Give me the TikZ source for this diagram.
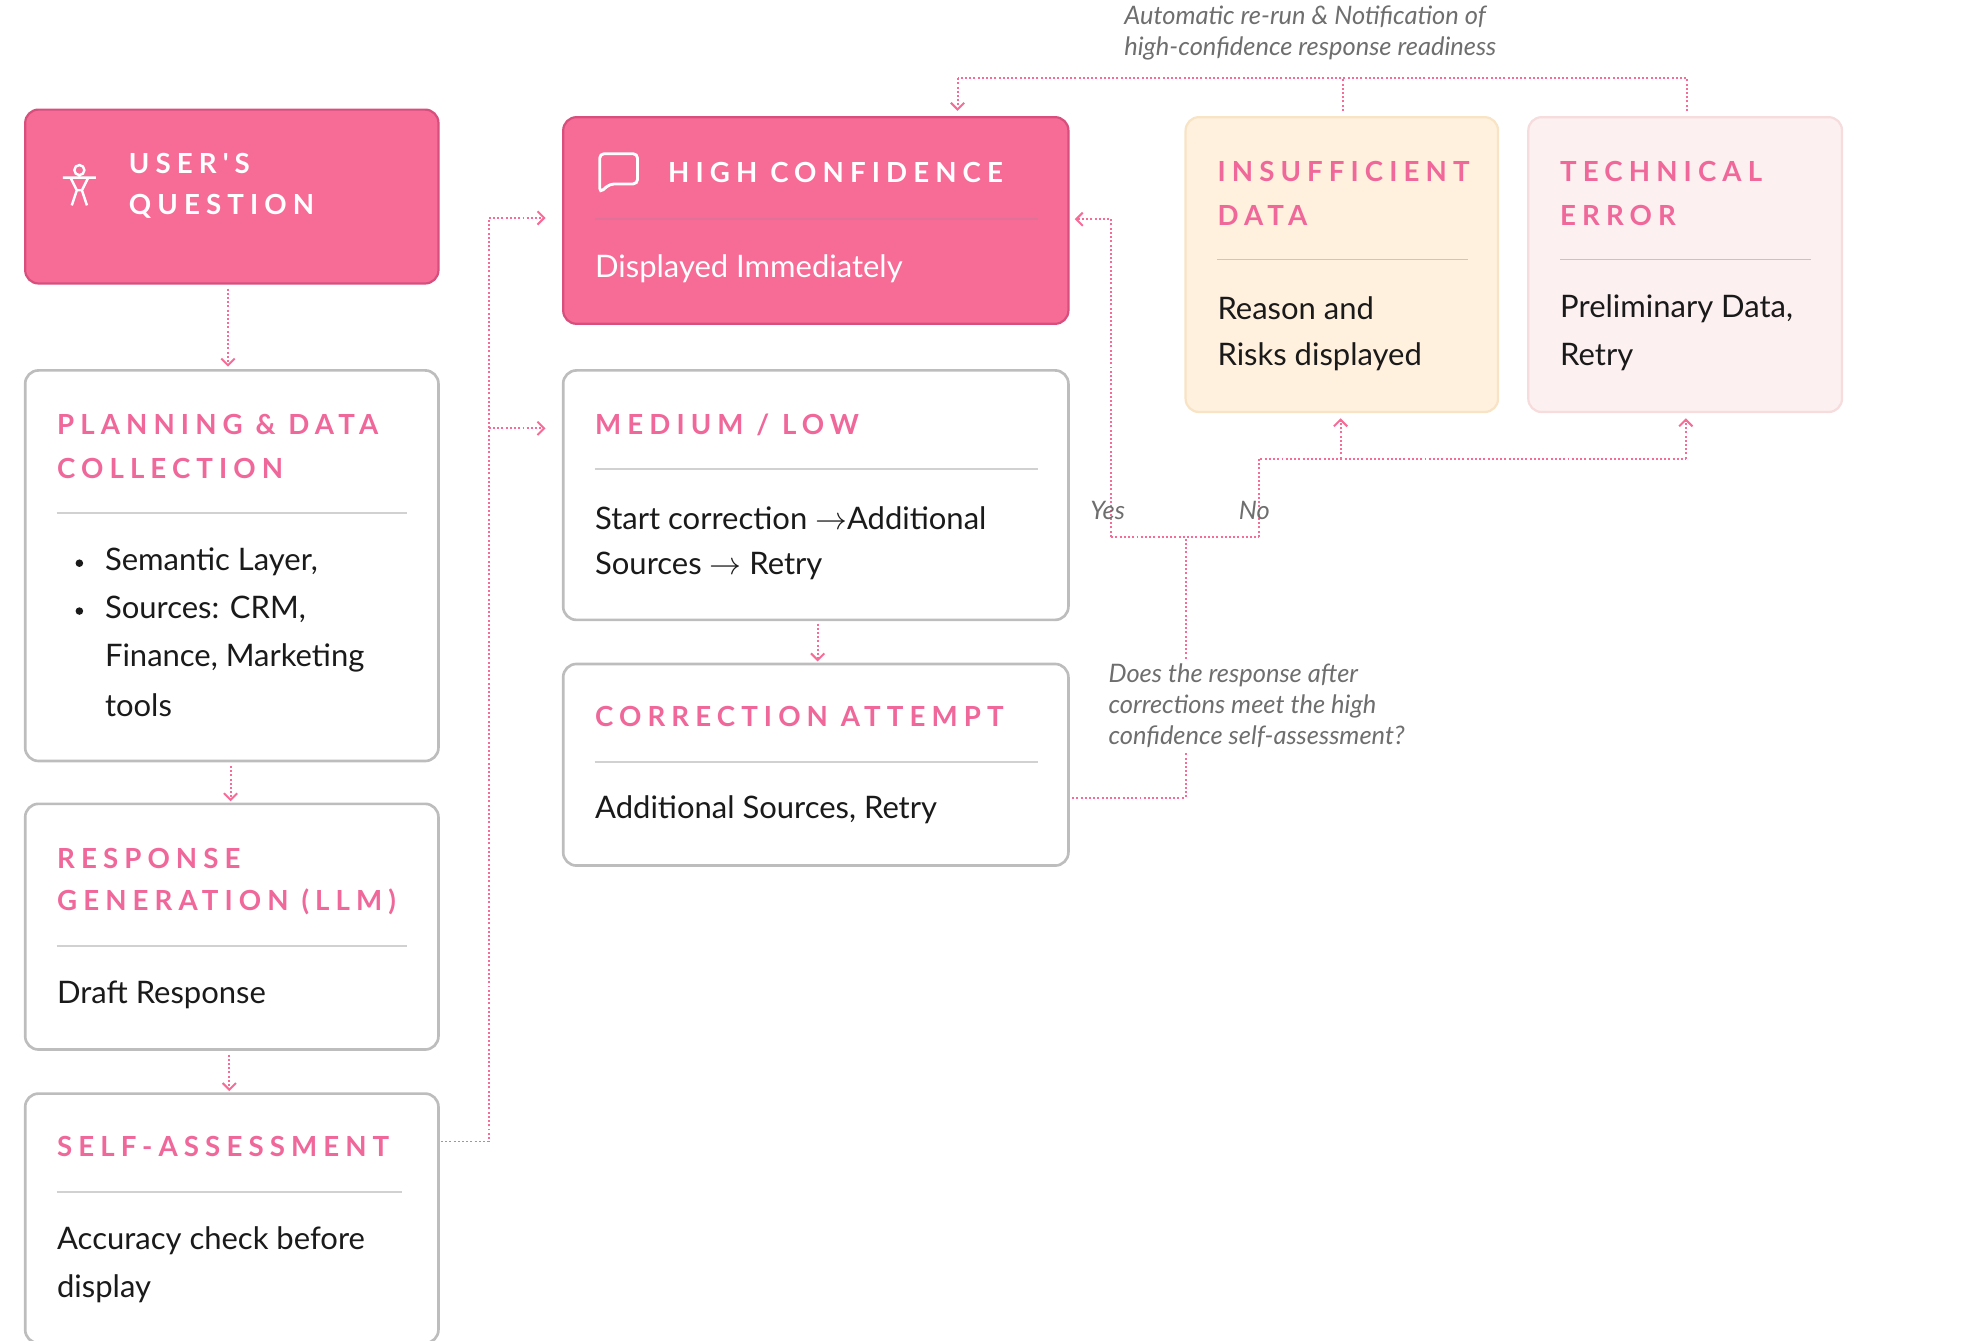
\documentclass[tikz,border=0pt]{standalone}
\usepackage{fontspec}
\setmainfont{Lato}
\newfontfamily\hdfont[LetterSpace=22]{Lato}
\usetikzlibrary{arrows.meta}
\definecolor{pk}{HTML}{F76B97}
\definecolor{pkd}{HTML}{D84F7E}
\definecolor{hd}{HTML}{F0679A}
\definecolor{gr}{HTML}{BDBDBD}
\definecolor{cream}{HTML}{FFF1DE}
\definecolor{creamb}{HTML}{F8E3C5}
\definecolor{rose}{HTML}{FDF0F0}
\definecolor{roseb}{HTML}{F6DCDC}
\definecolor{txt}{HTML}{1A1A1A}
\definecolor{it}{HTML}{6E6E6E}
\begin{document}
\begin{tikzpicture}[x=0.02cm,y=-0.02cm,
 box/.style={draw=gr,line width=1.2pt,fill=white,rounded corners=6pt},
 pbox/.style={draw=pkd,line width=1pt,fill=pk,rounded corners=6pt},
 hd/.style={anchor=west,inner sep=0pt,text=hd,font=\hdfont\bfseries\fontsize{12.5}{15}\selectfont},
 hw/.style={hd,text=white},
 bt/.style={anchor=west,inner sep=0pt,text=txt,font=\fontsize{14}{17}\selectfont},
 it/.style={anchor=west,inner sep=0pt,text=it,font=\itshape\fontsize{11.5}{14}\selectfont},
 rule/.style={draw=gr!70,line width=0.8pt},
 con/.style={draw=pk,densely dotted,line width=0.9pt},
 arr/.style={con,-{Straight Barb[length=3pt,width=6pt]}}]
\useasboundingbox (0,0) rectangle (1562,1064);
% left column
\draw[pbox] (20,87) rectangle (348,225);
\draw[white,line width=1.1pt] (63,135) circle (4) (50,141)--(76,141) (56,141)--(61,151)--(57,163) (70,141)--(65,151)--(69,163) (61,151)--(65,151);
\node[hw] at (102,130) {USER'S};
\node[hw] at (102,164) {QUESTION};
\draw[box] (20,294) rectangle (348,604);
\node[hd] at (45,337) {PLANNING \& DATA};
\node[hd] at (45,372) {COLLECTION};
\draw[rule] (45,407)--(323,407);
\fill[txt] (63,447) circle (3) (63,485) circle (3);
\node[bt] at (83,446) {Semantic Layer,};
\node[bt] at (83,484) {Sources: CRM,};
\node[bt] at (83,522) {Finance, Marketing};
\node[bt] at (83,560) {tools};
\draw[box] (20,638) rectangle (348,833);
\node[hd] at (45,681) {RESPONSE};
\node[hd] at (45,716) {GENERATION (LLM)};
\draw[rule] (45,751)--(323,751);
\node[bt] at (45,790) {Draft Response};
\draw[box] (20,868) rectangle (348,1066);
\node[hd] at (45,910) {SELF-ASSESSMENT};
\draw[rule] (45,946)--(319,946);
\node[bt] at (45,985) {Accuracy check before};
\node[bt] at (45,1023) {display};
% middle
\draw[pbox] (447,93) rectangle (848,257);
\draw[white,line width=1.3pt,rounded corners=2pt] (476,122)--(506,122)--(506,146)--(484,146)--(476,153)--cycle;
\node[hw] at (530,137) {HIGH CONFIDENCE};
\draw[pkd!80,line width=0.8pt] (472,174)--(824,174);
\node[bt,text=white] at (472,213) {Displayed Immediately};
\draw[box] (447,294) rectangle (848,492);
\node[hd] at (472,337) {MEDIUM / LOW};
\draw[rule] (472,372)--(824,372);
\node[bt] at (472,411) {Start correction $\rightarrow$Additional};
\node[bt] at (472,449) {Sources $\rightarrow$ Retry};
\draw[box] (447,527) rectangle (848,687);
\node[hd] at (472,569) {CORRECTION ATTEMPT};
\draw[rule] (472,605)--(824,605);
\node[bt] at (472,643) {Additional Sources, Retry};
% right
\draw[draw=creamb,line width=1pt,fill=cream,rounded corners=6pt] (941,93) rectangle (1189,327);
\node[hd] at (966,136) {INSUFFICIENT};
\node[hd] at (966,171) {DATA};
\draw[draw=creamb!70!gray,line width=0.8pt] (966,206)--(1165,206);
\node[bt] at (966,245) {Reason and};
\node[bt] at (966,283) {Risks displayed};
\draw[draw=roseb,line width=1pt,fill=rose,rounded corners=6pt] (1213,93) rectangle (1462,327);
\node[hd] at (1238,136) {TECHNICAL};
\node[hd] at (1238,171) {ERROR};
\draw[draw=roseb!70!gray,line width=0.8pt] (1238,206)--(1437,206);
\node[bt] at (1238,245) {Preliminary Data,};
\node[bt] at (1238,283) {Retry};
% connectors
\draw[arr] (181,229)--(181,291);
\draw[arr] (183,608)--(183,636);
\draw[arr] (182,837)--(182,866);
\draw[con] (350,906)--(388,906)--(388,173);
\draw[arr] (388,173)--(433,173);
\draw[arr] (388,340)--(433,340);
\draw[arr] (649,495)--(649,525);
\draw[con] (851,633)--(941,633)--(941,426);
\draw[con] (882,426)--(999,426);
\draw[arr] (882,426)--(882,174)--(853,174);
\draw[con] (999,426)--(999,364)--(1338,364);
\draw[arr] (1064,364)--(1064,332);
\draw[arr] (1338,364)--(1338,332);
\draw[con] (1066,88)--(1066,62) (1339,88)--(1339,62)--(760,62);
\draw[arr] (760,62)--(760,88);
\node[it] at (865,405) {Yes};
\node[it] at (983,405) {No};
\node[it,fill=white,inner sep=2pt,align=left] at (876,560) {Does the response after\\corrections meet the high\\confidence self-assessment?};
\node[it,align=left] at (892,26) {Automatic re-run \& Notification of\\high-confidence response readiness};
\end{tikzpicture}
\end{document}
